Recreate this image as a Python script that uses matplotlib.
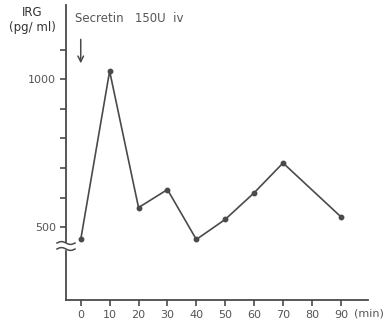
import numpy as np
import matplotlib.pyplot as plt

# IRG after secretin 150U iv
minutes = [0, 10, 20, 30, 40, 50, 60, 70, 90]
irg = [458, 1028, 566, 627, 458, 526, 616, 717, 535]

xticks = [0, 10, 20, 30, 40, 50, 60, 70, 80, 90]
yticks = [500, 600, 700, 800, 900, 1000, 1100]
ylabels = ['500', '', '', '', '', '1000', '']

ink = '#4a4a4a'
txt = '#555555'
W, H = 386, 330

fig = plt.figure(figsize=(W / 100, H / 100), dpi=100)
ax = fig.add_axes([66 / W, 30 / H, 302 / W, 295 / H])

ax.plot(minutes, irg, color=ink, lw=1.2, marker='o', ms=3.2, mfc=ink, mec=ink)

ax.set_xlim(-5.1, 99.4)
ax.set_ylim(253, 1252)
ax.set_xticks(xticks)
ax.set_xticklabels([str(t) for t in xticks])
ax.set_yticks(yticks)
ax.set_yticklabels(ylabels)
ax.tick_params(direction='out', length=4, width=1.2, color=ink,
               labelcolor=txt, labelsize=8, pad=3)
for s in ['top', 'right']:
    ax.spines[s].set_visible(False)
for s in ['left', 'bottom']:
    ax.spines[s].set_color(ink)
    ax.spines[s].set_linewidth(1.3)

# axis break on the y axis
tr = ax.transAxes
bx = np.linspace(-9 / 302, 9 / 302, 40)
by = (300 - 246) / 295
amp = 1.4 / 295
wave = amp * np.sin((bx - bx[0]) / (bx[-1] - bx[0]) * 2 * np.pi)
ax.fill_between(bx, by - 3 / 295 + wave, by + 3 / 295 + wave, color='white',
                transform=tr, clip_on=False, zorder=5)
ax.plot(bx, by - 3 / 295 + wave, color=ink, lw=1.1, transform=tr,
        clip_on=False, zorder=6)
ax.plot(bx, by + 3 / 295 + wave, color=ink, lw=1.1, transform=tr,
        clip_on=False, zorder=6)

# secretin injection
ax.annotate('', xy=(0, 1045), xytext=(0, 1145),
            arrowprops=dict(arrowstyle='->', color=ink, lw=1.1,
                            mutation_scale=10))
fig.text(75 / W, 1 - 18 / H, 'Secretin   150U  iv', color=txt, fontsize=8.5,
         va='center', ha='left')
fig.text(32 / W, 1 - 12 / H, 'IRG', color='#333333', fontsize=8.5,
         va='center', ha='center')
fig.text(32 / W, 1 - 28 / H, '(pg/ ml)', color='#333333', fontsize=8.5,
         va='center', ha='center')
fig.text(354 / W, 1 - 313 / H, '(min)', color=txt, fontsize=8,
         va='center', ha='left')

fig.savefig('out.png', dpi=100)
